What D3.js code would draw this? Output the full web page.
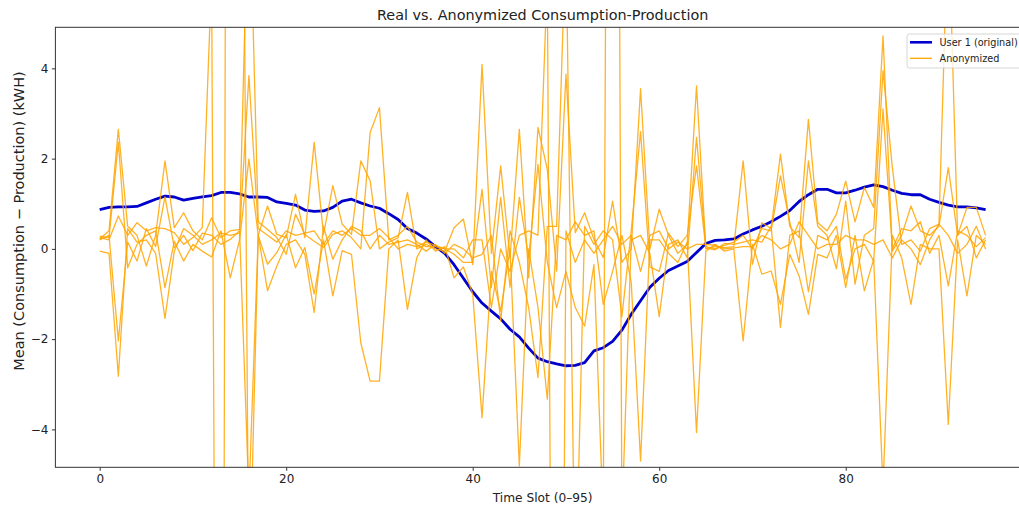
<!DOCTYPE html>
<html><head><meta charset="utf-8">
<script src="https://cdn.jsdelivr.net/npm/d3@7"></script>
<style>body{margin:0;background:#fff;} svg{display:block;font-family:"DejaVu Sans",sans-serif;}</style>
</head><body><svg id="chart" width="1019" height="508"></svg>
<script>
const slots = [0,1,2,3,4,5,6,7,8,9,10,11,12,13,14,15,16,17,18,19,20,21,22,23,24,25,26,27,28,29,30,31,32,33,34,35,36,37,38,39,40,41,42,43,44,45,46,47,48,49,50,51,52,53,54,55,56,57,58,59,60,61,62,63,64,65,66,67,68,69,70,71,72,73,74,75,76,77,78,79,80,81,82,83,84,85,86,87,88,89,90,91,92,93,94,95];
const xTicks = [0,20,40,60,80];
const yTicks = [-4,-2,0,2,4];
const user1 = [0.87,0.92,0.93,0.93,0.94,1.02,1.10,1.17,1.15,1.08, 1.12,1.15,1.18,1.25,1.25,1.22,1.15,1.15,1.14,1.04, 1.01,0.97,0.86,0.83,0.84,0.92,1.06,1.10,1.02,0.95, 0.90,0.78,0.65,0.45,0.35,0.22,0.05,-0.10,-0.35,-0.65, -0.95,-1.20,-1.38,-1.55,-1.78,-1.95,-2.20,-2.42,-2.50,-2.55, -2.59,-2.58,-2.52,-2.26,-2.19,-2.05,-1.80,-1.45,-1.15,-0.85, -0.65,-0.48,-0.38,-0.28,-0.08,0.12,0.19,0.20,0.22,0.33, 0.42,0.50,0.60,0.72,0.85,1.05,1.20,1.32,1.32,1.24, 1.24,1.30,1.37,1.42,1.38,1.30,1.23,1.20,1.20,1.10, 1.03,0.97,0.93,0.93,0.91,0.87];
const anon1 = [0.25,0.20,0.73,0.30,0.58,0.40,0.47,0.45,0.36,0.10, 0.25,0.47,6.0,-35,51,20,-8,0.30,0.95,0.32, 0.25,1.21,0.25,2.36,0.32,1.40,0.55,0.32,1.95,1.51, 0.00,0.15,0.25,1.25,0.00,0.10,0.00,-0.05,0.47,0.66, -0.35,4.09,-0.10,1.84,-0.20,2.65,-0.64,2.69,1.76,-0.49, 3.87,0.36,0.80,0.21,-0.19,1.06,-0.30,0.00,3.55,0.00, 0.88,0.30,-0.10,0.10,3.61,0.00,0.05,0.03,0.05,1.95, -0.34,0.58,0.45,2.10,0.50,0.25,2.87,0.58,0.40,0.77, 1.50,0.60,1.36,0.92,4.72,-0.05,0.30,0.95,0.40,0.30, 0.50,1.80,0.30,0.92,0.92,0.30];
const anon2 = [0.22,0.40,2.65,0.50,0.30,-0.38,0.30,1.95,0.47,0.80, 0.40,0.20,0.69,0.25,0.40,0.43,8.5,0.60,0.43,0.25, -0.12,0.77,0.32,0.17,0.03,0.32,0.40,0.25,0.00,2.58, 3.13,0.20,0.30,0.50,0.15,0.05,0.05,0.00,-0.12,-0.30, -0.30,1.32,-0.86,1.14,-0.85,1.14,-0.20,1.87,-0.30,-1.30, -0.50,-1.30,-1.71,-0.35,-6.0,40,-6.0,0.20,0.30,-0.10, -1.50,0.10,0.20,-0.20,2.47,0.05,0.00,0.08,0.15,0.30, 0.00,0.45,0.40,1.62,0.60,-0.30,1.95,0.50,0.30,-0.44, 1.06,-0.78,0.30,0.45,3.95,1.80,0.10,0.20,-0.05,0.45, 0.55,7.5,0.30,0.50,-0.20,0.20];
const anon3 = [0.28,0.25,2.36,-0.42,0.10,0.30,0.40,-0.86,0.17,-0.27, 0.10,-0.05,-0.18,0.40,-0.64,0.20,1.99,0.30,-0.34,-0.08, 0.32,-0.42,0.03,-1.00,0.20,-1.04,-0.04,-0.12,-2.08,-2.93, -2.93,0.00,0.20,-1.34,-0.20,0.20,-0.05,0.05,-0.64,-0.40, -1.00,-3.74,-0.50,-1.38,0.00,-4.81,0.00,-1.30,-3.33,0.30, 0.20,0.60,0.30,0.40,-1.23,-0.50,0.30,-0.74,-4.70,0.20, 0.20,-0.10,-0.30,0.15,-4.07,-0.05,0.10,-0.05,0.00,-2.04, 0.10,-0.56,-0.49,-1.23,-0.12,-0.60,-1.45,-0.12,-0.20,0.30, -0.86,0.30,-0.93,-0.23,-5.30,0.30,-0.20,-1.23,0.10,0.00, 0.00,-3.89,0.20,-1.04,0.30,0.10];
const anon4 = [0.20,0.30,-2.04,0.15,-0.27,0.45,0.05,1.15,0.03,0.30, -0.04,0.35,0.30,0.10,0.21,0.40,-5.5,0.30,-0.93,-0.38, 0.10,0.20,-0.12,-1.41,0.50,-0.23,0.20,0.50,0.40,0.00, 0.30,0.10,0.15,0.20,0.10,-0.05,0.10,-0.10,0.10,0.00, -0.20,-0.12,0.30,-1.60,0.40,-0.30,-1.30,-2.85,0.50,0.50, 7.0,-8.0,0.50,0.10,0.40,0.20,-1.50,0.40,2.60,-0.40, -0.50,0.35,0.05,0.30,1.84,0.02,-0.02,0.12,0.10,0.15, 0.20,0.15,0.50,-1.74,0.30,0.40,-0.95,0.30,0.20,0.50, -0.67,0.00,0.10,-0.27,3.10,0.00,0.45,0.40,0.60,-0.10, 0.30,-0.82,0.40,0.30,0.05,0.25];
const anon5 = [-0.05,-0.10,-2.82,0.45,0.15,0.20,-0.10,-1.54,-0.05,0.45, 0.30,0.10,0.20,0.35,0.30,0.35,3.84,0.45,0.30,0.15, 0.40,0.30,0.35,0.40,0.10,0.40,0.30,0.45,0.30,0.30, 0.45,0.25,0.00,0.10,0.05,0.15,0.08,0.00,0.00,-0.20, 0.20,0.20,-1.30,0.00,-0.50,0.30,0.40,0.30,6.0,-30, 0.40,-0.30,0.20,-0.10,0.20,0.50,0.10,0.30,-0.50,0.30, 0.40,0.00,0.15,0.00,0.10,0.10,0.08,0.00,0.02,0.05, 0.05,0.30,0.20,0.00,0.10,0.60,0.30,0.00,0.10,0.10, 0.30,0.20,0.20,0.10,0.20,-0.20,0.20,0.00,-0.35,0.20, 0.55,0.30,-0.10,0.10,0.50,0.00];
const anonSeries = [anon1, anon2, anon3, anon4, anon5];

const svg = d3.select("#chart");
const L = 55.4, R = 1029.9, T = 27.3, B = 467.3;
const x = d3.scaleLinear().domain([-4.75, 99.75]).range([L, R]);
const y = d3.scaleLinear().domain([-4.84, 4.91]).range([B, T]);

svg.append("defs").append("clipPath").attr("id","clip")
  .append("rect").attr("x",L).attr("y",T).attr("width",R-L).attr("height",B-T);

const line = d3.line().x((d,i)=>x(slots[i])).y(d=>y(d));
const plot = svg.append("g").attr("clip-path","url(#clip)");

plot.append("path").datum(user1).attr("d",line)
  .attr("fill","none").attr("stroke","#0000cd").attr("stroke-width",2.8).attr("stroke-linejoin","round");
anonSeries.forEach(s=>{
  plot.append("path").datum(s).attr("d",line)
    .attr("fill","none").attr("stroke","#ffa500").attr("stroke-width",1.3).attr("stroke-opacity",0.85).attr("stroke-linejoin","round");
});

// axes
const xa = svg.append("g").attr("transform",`translate(0,${B})`)
  .call(d3.axisBottom(x).tickValues(xTicks).tickSize(3.5).tickPadding(3.5).tickFormat(d3.format("d")));
const ya = svg.append("g").attr("transform",`translate(${L},0)`)
  .call(d3.axisLeft(y).tickValues(yTicks).tickSize(3.5).tickPadding(3.5).tickFormat(d3.format("d")));
[xa,ya].forEach(a=>{
  a.select(".domain").remove();
  a.selectAll("text").attr("font-size",12).attr("font-family","DejaVu Sans").attr("fill","#222");
  a.selectAll("line").attr("stroke","#333").attr("stroke-width",1);
});
svg.append("rect").attr("x",L).attr("y",T).attr("width",R-L).attr("height",B-T)
  .attr("fill","none").attr("stroke","#333").attr("stroke-width",1);

// title and labels
svg.append("text").attr("x",(L+R)/2).attr("y",20).attr("text-anchor","middle")
  .attr("font-size",14.4).attr("fill","#222").text("Real vs. Anonymized Consumption-Production");
svg.append("text").attr("x",(L+R)/2).attr("y",502).attr("text-anchor","middle")
  .attr("font-size",12.2).attr("fill","#222").text("Time Slot (0–95)");
svg.append("text").attr("transform",`translate(23.5,221) rotate(-90)`).attr("text-anchor","middle")
  .attr("font-size",14.5).attr("fill","#222").text("Mean (Consumption − Production) (kWH)");

// legend
const lg = svg.append("g");
lg.append("rect").attr("x",907).attr("y",34).attr("width",118).attr("height",34).attr("rx",2.5)
  .attr("fill","#fff").attr("fill-opacity",0.8).attr("stroke","#cccccc").attr("stroke-width",0.8);
const legendItems = [{label:"User 1 (original)", color:"#0000cd", w:2.6},{label:"Anonymized", color:"#ffa500", w:1.3}];
legendItems.forEach((it,i)=>{
  const yy = 42.3 + i*16;
  lg.append("line").attr("x1",910).attr("x2",932).attr("y1",yy).attr("y2",yy).attr("stroke",it.color).attr("stroke-width",it.w);
  lg.append("text").attr("x",939.5).attr("y",yy+3.5).attr("font-size",9.7).attr("fill","#222").text(it.label);
});
</script></body></html>
